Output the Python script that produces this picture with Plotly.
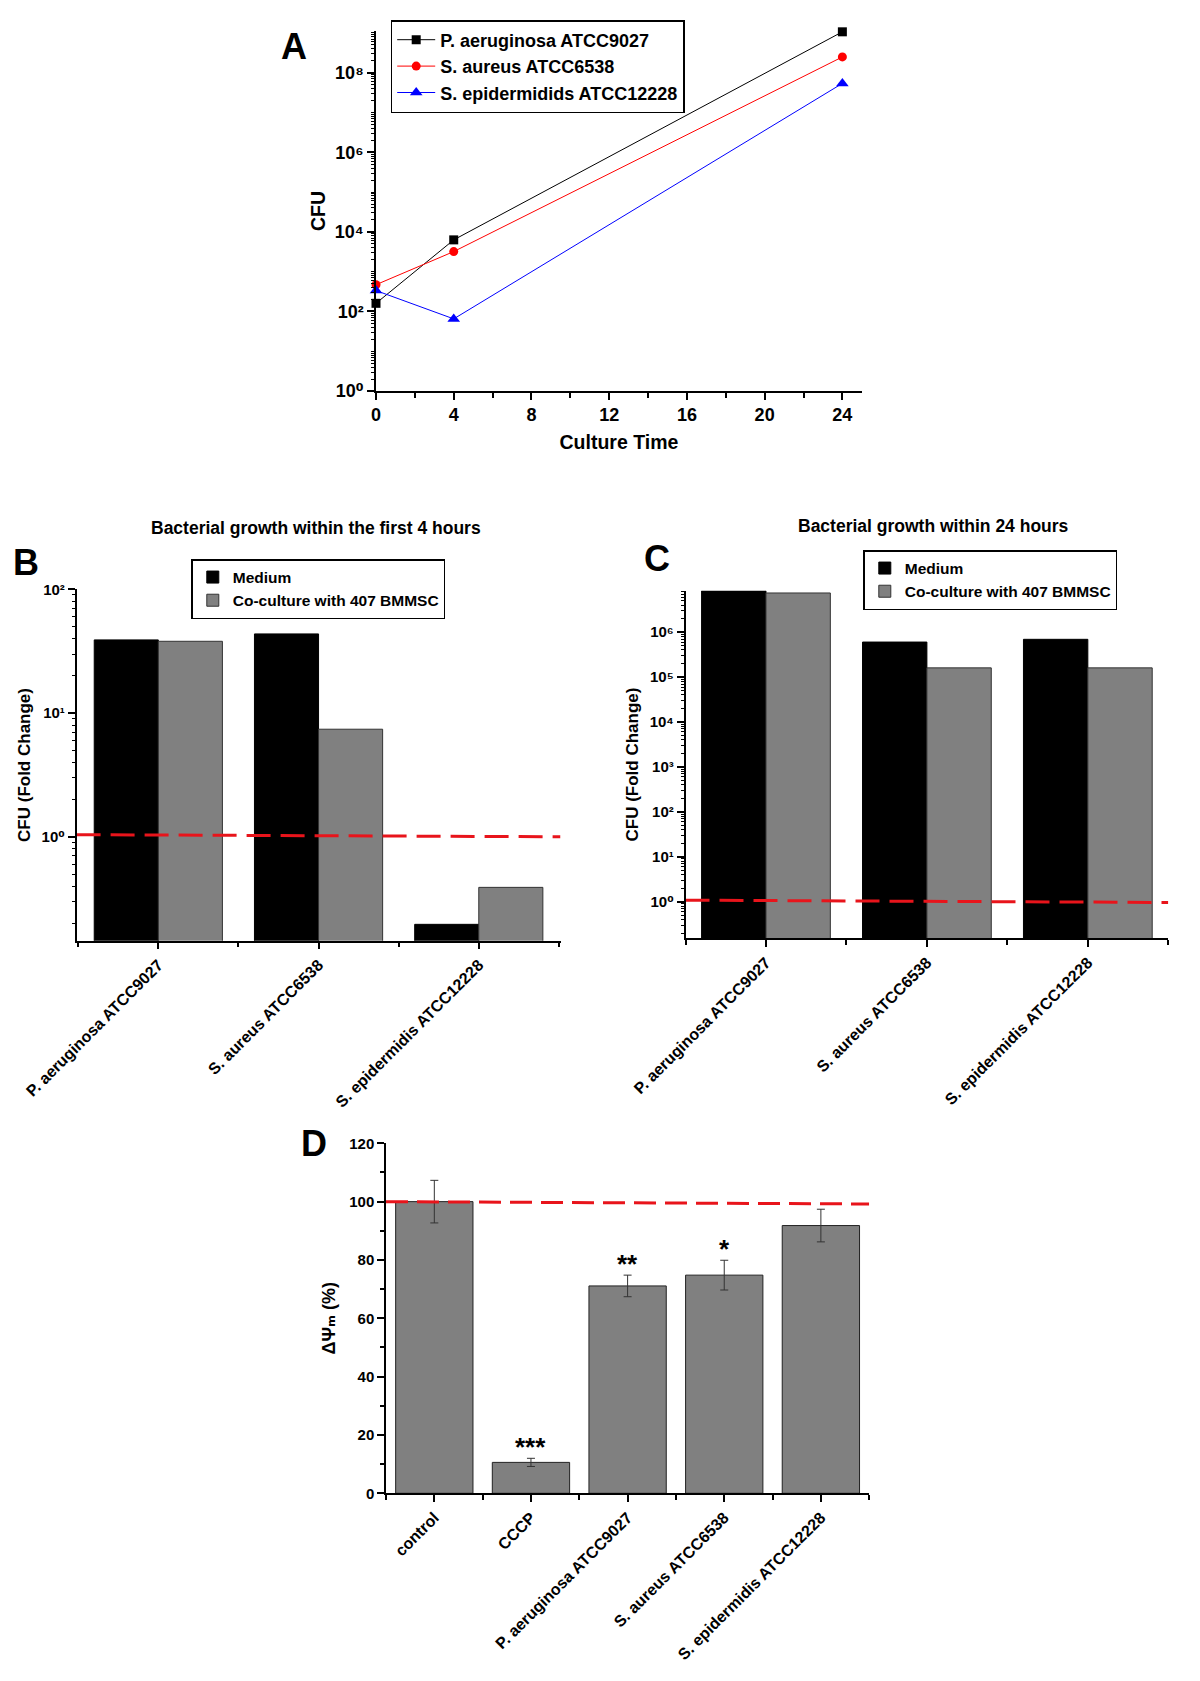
import plotly.graph_objects as go

# ---------------- Panel A data ----------------
time_h = [0, 4, 24]
time_ticks = [0, 4, 8, 12, 16, 20, 24]
strains_a = ["P. aeruginosa ATCC9027", "S. aureus ATCC6538", "S. epidermidids ATCC12228"]
cfu_pa = [160, 6300, 1.07e9]
cfu_sa = [470, 3200, 2.5e8]
cfu_se = [335, 65, 5.4e7]

# ---------------- Panels B / C data ----------------
strains = ["P. aeruginosa ATCC9027", "S. aureus ATCC6538", "S. epidermidis ATCC12228"]
fold_4h_medium = [39, 43.6, 0.196]
fold_4h_coculture = [38, 7.4, 0.39]
fold_24h_medium = [8.3e6, 6.0e5, 6.9e5]
fold_24h_coculture = [7.4e6, 1.6e5, 1.6e5]
baseline_b = [1.04, 1.0]
baseline_c = [1.09, 0.97]

# ---------------- Panel D data ----------------
groups_d = ["control", "CCCP", "P. aeruginosa ATCC9027", "S. aureus ATCC6538", "S. epidermidis ATCC12228"]
dpsi_mean = [100, 10.6, 71.1, 74.8, 91.8]
dpsi_err = [7.3, 1.4, 3.7, 5.1, 5.6]
dpsi_sig = ["", "***", "**", "*", ""]
baseline_d = [100, 99.2]
dpsi_ticks = [0, 20, 40, 60, 80, 100, 120]

FONT = "Liberation Sans, Arial, DejaVu Sans, Noto Sans, sans-serif"
W, H = 1184, 1665   # figure size (page adds an 8px body margin)
OFF = 8
SUP = str.maketrans("0123456789-", "⁰¹²³⁴⁵⁶⁷⁸⁹⁻")


def bold(size):
    return dict(family=FONT, size=size, color="black", weight="bold")


def px_x(p):
    return (p - OFF) / W


def px_y(p):
    return 1 - (p - OFF) / H


def dom_x(a, b):
    return [px_x(a), px_x(b)]


def dom_y(top, bottom):
    return [px_y(bottom), px_y(top)]


def sup_labels(exps):
    return ["10" + str(e).translate(SUP) for e in exps]


def minor_log(e0, e1):
    return [m * 10 ** e for e in range(e0, e1) for m in range(1, 10)]


axis_common = dict(showline=True, linecolor="black", linewidth=1.5, ticks="outside",
                   tickcolor="black", tickwidth=1.5, showgrid=False, zeroline=False,
                   mirror=False, automargin=False)

fig = go.Figure()

# ---------- Panel A ----------
for name, vals, col, sym, sz in [(strains_a[0], cfu_pa, "black", "square", 9),
                                 (strains_a[1], cfu_sa, "red", "circle", 9),
                                 (strains_a[2], cfu_se, "blue", "triangle-up", 11)]:
    fig.add_trace(go.Scatter(x=time_h, y=vals, name=name, mode="lines+markers",
                             line=dict(color=col, width=1),
                             marker=dict(symbol=sym, size=sz, color=col),
                             cliponaxis=False, xaxis="x", yaxis="y", legend="legend"))

# ---------- Panel B ----------
xb = list(range(len(strains)))
fig.add_trace(go.Bar(x=xb, y=fold_4h_medium, name="Medium",
                     marker=dict(color="black", line=dict(color="black", width=1)),
                     xaxis="x2", yaxis="y2", legend="legend2"))
fig.add_trace(go.Bar(x=xb, y=fold_4h_coculture, name="Co-culture with 407 BMMSC",
                     marker=dict(color="#808080", line=dict(color="#333333", width=1)),
                     xaxis="x2", yaxis="y2", legend="legend2"))
rng_b = [-0.51, 2.51]
fig.add_trace(go.Scatter(x=rng_b, y=baseline_b, mode="lines", showlegend=False,
                         line=dict(color="#e8141b", width=3, dash="24px,10px"), xaxis="x2", yaxis="y2"))

# ---------- Panel C ----------
fig.add_trace(go.Bar(x=xb, y=fold_24h_medium, name="Medium",
                     marker=dict(color="black", line=dict(color="black", width=1)),
                     xaxis="x3", yaxis="y3", legend="legend3"))
fig.add_trace(go.Bar(x=xb, y=fold_24h_coculture, name="Co-culture with 407 BMMSC",
                     marker=dict(color="#808080", line=dict(color="#333333", width=1)),
                     xaxis="x3", yaxis="y3", legend="legend3"))
rng_c = [-0.5, 2.5]
fig.add_trace(go.Scatter(x=rng_c, y=baseline_c, mode="lines", showlegend=False,
                         line=dict(color="#e8141b", width=3, dash="24px,10px"), xaxis="x3", yaxis="y3"))

# ---------- Panel D ----------
xd = list(range(len(groups_d)))
fig.add_trace(go.Bar(x=xd, y=dpsi_mean, showlegend=False,
                     marker=dict(color="#808080", line=dict(color="#222222", width=1)),
                     error_y=dict(type="data", array=dpsi_err, color="#333333", thickness=1, width=4),
                     xaxis="x4", yaxis="y4"))
rng_d = [-0.5, 4.5]
fig.add_trace(go.Scatter(x=rng_d, y=baseline_d, mode="lines", showlegend=False,
                         line=dict(color="#e8141b", width=3, dash="22px,9px"), xaxis="x4", yaxis="y4"))

annotations = []
for i, (m, e, s) in enumerate(zip(dpsi_mean, dpsi_err, dpsi_sig)):
    if s:
        annotations.append(dict(x=i, y=m + e, xref="x4", yref="y4", text=s, showarrow=False,
                                yanchor="bottom", yshift=-6, font=bold(26)))

# panel letters and titles (positions given in page pixels)
for letter, px, py in [("A", 293.6, 47), ("B", 26, 562), ("C", 657, 558), ("D", 314, 1143)]:
    annotations.append(dict(x=px_x(px), y=px_y(py), xref="paper", yref="paper", text=letter,
                            showarrow=False, xanchor="center", yanchor="middle", font=bold(36)))
for t, px, py in [("Bacterial growth within the first 4 hours", 316, 528),
                  ("Bacterial growth within 24 hours", 933, 526)]:
    annotations.append(dict(x=px_x(px), y=px_y(py), xref="paper", yref="paper", text=t,
                            showarrow=False, xanchor="center", yanchor="middle", font=bold(17.5)))

layout_axes = dict(
    xaxis=dict(axis_common, domain=dom_x(376, 861.8), anchor="y", range=[0, 25],
               tickmode="array", tickvals=time_ticks, ticklen=7, tickfont=bold(18),
               minor=dict(tickmode="linear", tick0=2, dtick=4, ticks="outside", ticklen=5,
                          tickcolor="black", tickwidth=1.5),
               title=dict(text="Culture Time", font=bold(19.5), standoff=11)),
    yaxis=dict(axis_common, domain=dom_y(31, 391), anchor="x", type="log", range=[0, 9.05],
               tickmode="array", tickvals=[10 ** e for e in range(0, 9, 2)],
               ticktext=sup_labels(range(0, 9, 2)), ticklen=7, tickfont=bold(18),
               minor=dict(tickmode="array", tickvals=minor_log(0, 10), ticks="outside",
                          ticklen=3, tickcolor="black", tickwidth=1),
               title=dict(text="CFU", font=bold(19.5), standoff=4)),
    xaxis2=dict(axis_common, domain=dom_x(76.6, 560.5), anchor="y2", range=rng_b,
                tickmode="array", tickvals=xb, ticktext=strains, tickangle=-45, ticklen=7,
                tickfont=bold(16),
                minor=dict(tickmode="linear", tick0=0.5, dtick=1, ticks="outside", ticklen=5,
                           tickcolor="black", tickwidth=1.5)),
    yaxis2=dict(axis_common, domain=dom_y(589.3, 940.7), anchor="x2", type="log", range=[-0.84, 2],
                tickmode="array", tickvals=[1, 10, 100], ticktext=sup_labels([0, 1, 2]),
                ticklen=7, tickfont=bold(15),
                minor=dict(tickmode="array", tickvals=minor_log(-1, 2), ticks="outside",
                           ticklen=3, tickcolor="black", tickwidth=1),
                title=dict(text="CFU (Fold Change)", font=bold(17), standoff=7)),
    xaxis3=dict(axis_common, domain=dom_x(685.5, 1168.3), anchor="y3", range=rng_c,
                tickmode="array", tickvals=xb, ticktext=strains, tickangle=-45, ticklen=7,
                tickfont=bold(16),
                minor=dict(tickmode="linear", tick0=0.5, dtick=1, ticks="outside", ticklen=5,
                           tickcolor="black", tickwidth=1.5)),
    yaxis3=dict(axis_common, domain=dom_y(590.7, 938.3), anchor="x3", type="log", range=[-0.81, 6.92],
                tickmode="array", tickvals=[10 ** e for e in range(0, 7)],
                ticktext=sup_labels(range(0, 7)), ticklen=7, tickfont=bold(15),
                minor=dict(tickmode="array", tickvals=minor_log(-1, 7), ticks="outside",
                           ticklen=3, tickcolor="black", tickwidth=1),
                title=dict(text="CFU (Fold Change)", font=bold(17), standoff=7)),
    xaxis4=dict(axis_common, domain=dom_x(386, 869.2), anchor="y4", range=rng_d,
                tickmode="array", tickvals=xd, ticktext=groups_d, tickangle=-45, ticklen=7,
                tickfont=bold(16),
                minor=dict(tickmode="linear", tick0=0.5, dtick=1, ticks="outside", ticklen=5,
                           tickcolor="black", tickwidth=1.5)),
    yaxis4=dict(axis_common, domain=dom_y(1143.3, 1493.3), anchor="x4", range=[0, 120],
                tickmode="array", tickvals=dpsi_ticks, ticklen=7, tickfont=bold(15),
                minor=dict(tickmode="linear", tick0=10, dtick=20, ticks="outside", ticklen=4,
                           tickcolor="black", tickwidth=1.5),
                title=dict(text="ΔΨₘ (%)", font=bold(18), standoff=9)),
)

legend_common = dict(bgcolor="white", bordercolor="black", borderwidth=1.5,
                     xanchor="left", yanchor="top", tracegroupgap=0)

fig.update_layout(
    width=W, height=H, margin=dict(l=0, r=0, t=0, b=0),
    font=dict(family=FONT, size=15, color="black"),
    paper_bgcolor="white", plot_bgcolor="white",
    barmode="group", bargap=0.2, bargroupgap=0,
    annotations=annotations,
    legend=dict(legend_common, x=px_x(390.7), y=px_y(20), font=bold(18), itemwidth=38),
    legend2=dict(legend_common, x=px_x(191.3), y=px_y(559), font=bold(15.5)),
    legend3=dict(legend_common, x=px_x(863.3), y=px_y(550), font=bold(15.5)),
    **layout_axes,
)

fig.write_html("out.html")
